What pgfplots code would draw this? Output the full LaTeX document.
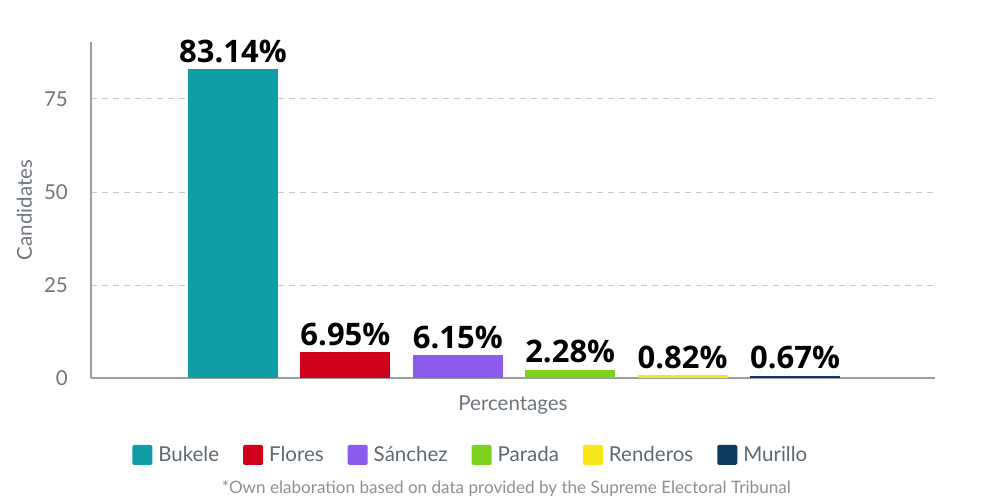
\documentclass[border=0pt]{standalone}
\usepackage{pgfplots}
\pgfplotsset{compat=1.18}
\usepackage{fontspec}
\setmainfont{Lato}
\newfontfamily\labfont{Open Sans}
\definecolor{cBukele}{HTML}{109DA4}
\definecolor{cFlores}{HTML}{D0021B}
\definecolor{cSanchez}{HTML}{8B5CEB}
\definecolor{cParada}{HTML}{7ED321}
\definecolor{cRenderos}{HTML}{F8E71C}
\definecolor{cMurillo}{HTML}{0B3B63}
\definecolor{axgray}{HTML}{9A9EA3}
\definecolor{tickgray}{HTML}{6E757C}
\definecolor{leggray}{HTML}{5E6870}
\definecolor{footgray}{HTML}{8A9096}
\definecolor{gridgray}{HTML}{C8C8C8}
\begin{document}
\begin{tikzpicture}
\path[use as bounding box] (-91pt,-124pt) rectangle (909pt,378pt);
\begin{axis}[
  scale only axis, width=844pt, height=336pt,
  xmin=-1.263, xmax=6.245, ymin=0, ymax=90.3,
  axis x line=bottom, axis y line=left,
  axis line style={-, draw=axgray, line width=1.2pt},
  xtick=\empty, ytick={0,25,50,75},
  major tick length=0pt,
  ymajorgrids, grid style={gridgray, line width=0.9pt, dash pattern=on 6pt off 5pt},
  /pgf/number format/assume math mode=true,
  yticklabel style={font=\fontsize{20.5}{24}\selectfont, text=tickgray, anchor=east, inner sep=0pt, xshift=-23pt},
  ylabel={Candidates},
  ylabel style={font=\fontsize{20.5}{24}\selectfont, text=tickgray, at={(axis description cs:-0.079,0.5)}, anchor=center},
  xlabel={Percentages},
  xlabel style={font=\fontsize{20.5}{24}\selectfont, text=tickgray, at={(axis description cs:0.5,-0.080)}, anchor=center},
  ybar, bar width=90pt, bar shift=0pt,
  nodes near coords={\pgfmathprintnumber[fixed,fixed zerofill,precision=2]{\pgfplotspointmeta}\%},
  every node near coord/.append style={font=\labfont\bfseries\fontsize{31}{31}\selectfont, text=black, inner sep=0pt, yshift=6pt},
  clip=false,
  legend columns=6,
  legend image code/.code={\fill[#1,draw=none,rounded corners=1.5pt] (0pt,-10pt) rectangle (20pt,10pt);},
  legend style={draw=none, fill=none, font=\fontsize{20.5}{24}\selectfont, text=leggray,
    at={(axis description cs:0.450,-0.229)}, anchor=center,
    /tikz/every odd column/.append style={column sep=4pt},
    /tikz/every even column/.append style={column sep=22pt}},
]
\addplot[fill=cBukele, draw=none] coordinates {(0,83.14)};
\addplot[fill=cFlores, draw=none] coordinates {(1,6.95)};
\addplot[fill=cSanchez, draw=none] coordinates {(2,6.15)};
\addplot[fill=cParada, draw=none] coordinates {(3,2.28)};
\addplot[fill=cRenderos, draw=none] coordinates {(4,0.82)};
\addplot[fill=cMurillo, draw=none] coordinates {(5,0.67)};
\legend{Bukele, Flores, Sánchez, Parada, Renderos, Murillo}
\node[font=\fontsize{17.1}{20}\selectfont, text=footgray] at (axis description cs:0.492,-0.330) {*Own elaboration based on data provided by the Supreme Electoral Tribunal};
\end{axis}
\end{tikzpicture}
\end{document}
